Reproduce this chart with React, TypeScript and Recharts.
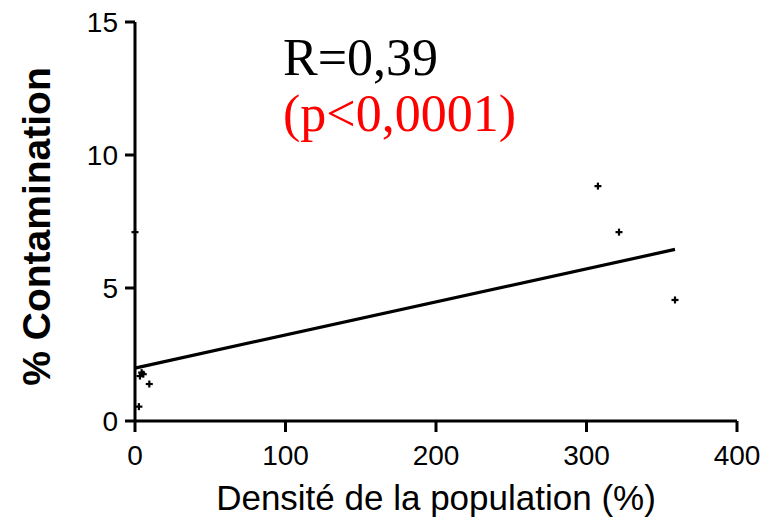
import React from 'react';
import { ScatterChart, Scatter, XAxis, YAxis } from 'recharts';

// readings from the plot (density %, contamination %)
const densite = [0, 307.6, 321.6, 358.8, 9.5, 4.4, 3.3, 5.5, 2.6];
const contamination = [7.1, 8.83, 7.1, 4.55, 1.39, 1.82, 1.69, 1.76, 0.54];

const xTicks = [0, 100, 200, 300, 400];
const yTicks = [0, 5, 10, 15];

// linear fit
const fitIntercept = 1.99;
const fitSlope = 0.01243;
const fitRange = [0, 358.8];

const points = densite.map((x, i) => ({ x, y: contamination[i] }));
const fitLine = fitRange.map((x) => ({ x, y: fitIntercept + fitSlope * x }));

const W = 772;
const H = 518;

const tickStyle = { fill: '#000', fontFamily: 'Liberation Sans, Arial, sans-serif', fontSize: 28 };

const Plus = (props: any) => {
  const { cx, cy } = props;
  if (cx == null || cy == null) return <g />;
  return (
    <g stroke="#000" strokeWidth={2.2}>
      <line x1={cx - 3.5} y1={cy} x2={cx + 3.5} y2={cy} />
      <line x1={cx} y1={cy - 3.5} x2={cx} y2={cy + 3.5} />
    </g>
  );
};

const NoDot = () => <g />;

export default function App() {
  return (
    <div style={{ position: 'relative', width: W, height: H, background: '#fff' }}>
      <style>{`body{margin:0;}`}</style>
      <ScatterChart width={W} height={H} margin={{ top: 22, right: 35, left: 0, bottom: 0 }}>
        <XAxis
          type="number"
          dataKey="x"
          domain={[0, 400]}
          ticks={xTicks}
          height={97}
          tick={tickStyle}
          tickSize={11}
          tickMargin={13}
          axisLine={{ stroke: '#000', strokeWidth: 3 }}
          tickLine={{ stroke: '#000', strokeWidth: 3 }}
          label={{
            content: ({ viewBox }: any) => (
              <text
                x={viewBox.x + viewBox.width / 2}
                y={viewBox.y + 89}
                textAnchor="middle"
                fill="#000"
                fontFamily="Liberation Sans, Arial, sans-serif"
                fontSize={35}
              >
                Densité de la population (%)
              </text>
            ),
          }}
        />
        <YAxis
          type="number"
          dataKey="y"
          domain={[0, 15]}
          ticks={yTicks}
          width={135}
          tick={tickStyle}
          tickSize={10}
          tickMargin={7}
          axisLine={{ stroke: '#000', strokeWidth: 3 }}
          tickLine={{ stroke: '#000', strokeWidth: 3 }}
          label={{
            content: ({ viewBox }: any) => {
              const cx = viewBox.x + 50;
              const cy = viewBox.y + viewBox.height / 2 + 5;
              return (
                <text
                  x={cx}
                  y={cy}
                  transform={`rotate(-90 ${cx} ${cy})`}
                  textAnchor="middle"
                  fill="#000"
                  fontFamily="Liberation Sans, Arial, sans-serif"
                  fontWeight="bold"
                  fontSize={39}
                >
                  % Contamination
                </text>
              );
            },
          }}
        />
        <Scatter
          data={fitLine}
          line={{ stroke: '#000', strokeWidth: 3.2 }}
          shape={NoDot}
          isAnimationActive={false}
        />
        <Scatter data={points} shape={Plus} isAnimationActive={false} />
      </ScatterChart>
      <svg width={W} height={H} style={{ position: 'absolute', left: 0, top: 0, pointerEvents: 'none' }}>
        <text x={283} y={75} fontFamily="Liberation Serif, Times New Roman, serif" fontSize={52} fill="#000">
          R=0,39
        </text>
        <text x={283} y={131} fontFamily="Liberation Serif, Times New Roman, serif" fontSize={52} fill="#ff0000">
          (p&lt;0,0001)
        </text>
      </svg>
    </div>
  );
}
